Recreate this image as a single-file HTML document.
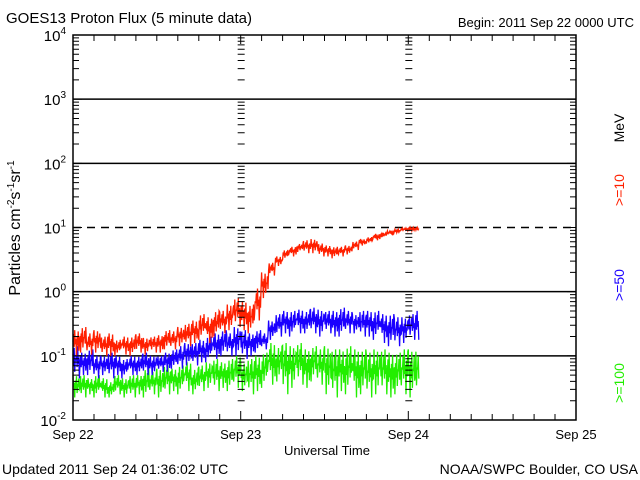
<!DOCTYPE html>
<html><head><meta charset="utf-8"><style>
html,body{margin:0;padding:0;background:#fff;width:640px;height:480px;overflow:hidden}
svg text{font-family:"Liberation Sans",sans-serif;}
</style></head><body>
<svg id="chart" width="640" height="480" viewBox="0 0 640 480">
<rect width="640" height="480" fill="#fff"/>
<text x="6" y="23" font-size="15">GOES13 Proton Flux (5 minute data)</text>
<text x="634" y="27" font-size="13" text-anchor="end">Begin: 2011 Sep 22 0000 UTC</text>
<text transform="translate(20,228) rotate(-90)" font-size="16" text-anchor="middle">Particles cm<tspan dy="-6" font-size="10">-2</tspan><tspan dy="6">s</tspan><tspan dy="-6" font-size="10">-1</tspan><tspan dy="6">sr</tspan><tspan dy="-6" font-size="10">-1</tspan></text>
<text transform="translate(624,128) rotate(-90)" font-size="14" text-anchor="middle">MeV</text>
<text transform="translate(624,190) rotate(-90)" font-size="14" text-anchor="middle" fill="#ff2000">&gt;=10</text>
<text transform="translate(624,285) rotate(-90)" font-size="14" text-anchor="middle" fill="#1a00ff">&gt;=50</text>
<text transform="translate(624,383) rotate(-90)" font-size="14" text-anchor="middle" fill="#22ee00">&gt;=100</text>
<text x="327" y="455" font-size="13" text-anchor="middle">Universal Time</text>
<text x="2" y="474" font-size="14">Updated 2011 Sep 24 01:36:02 UTC</text>
<text x="638" y="474" font-size="14" text-anchor="end">NOAA/SWPC Boulder, CO USA</text>
<g id="axes"></g>
<g id="series"></g>
<g id="frame"></g>
</svg>
<script>
const dayLabels = ["Sep 22","Sep 23","Sep 24","Sep 25"];
const decadeExps = [-2,-1,0,1,2,3,4];
const redHi = [-0.6,-0.55,-0.65,-0.6,-0.7,-0.65,-0.75,-0.7,-0.7,-0.65,-0.72,-0.7,-0.68,-0.6,-0.62,-0.55,-0.5,-0.45,-0.35,-0.4,-0.3,-0.3,-0.2,-0.1,-0.15,-0.2,0.05,0.3,0.45,0.55,0.65,0.7,0.75,0.8,0.82,0.75,0.72,0.7,0.7,0.72,0.78,0.82,0.85,0.9,0.92,0.95,0.97,0.99,1.0,1.0];
const redLo = [-1.0,-0.95,-0.98,-0.95,-1.0,-1.0,-1.0,-0.98,-1.0,-0.95,-0.98,-0.95,-0.95,-0.9,-0.9,-0.85,-0.85,-0.8,-0.75,-0.8,-0.7,-0.65,-0.6,-0.55,-0.6,-0.65,-0.45,-0.1,0.25,0.4,0.5,0.55,0.62,0.6,0.6,0.55,0.55,0.52,0.55,0.58,0.65,0.72,0.75,0.8,0.85,0.88,0.92,0.95,0.95,0.96];
const blueHi = [-0.85,-0.95,-0.9,-1.0,-1.0,-0.95,-1.0,-1.05,-1.0,-1.0,-0.95,-1.0,-1.0,-0.95,-0.9,-0.85,-0.8,-0.8,-0.75,-0.7,-0.65,-0.6,-0.65,-0.55,-0.6,-0.65,-0.6,-0.65,-0.45,-0.35,-0.3,-0.3,-0.28,-0.3,-0.25,-0.28,-0.3,-0.3,-0.25,-0.3,-0.35,-0.3,-0.3,-0.3,-0.35,-0.35,-0.4,-0.4,-0.35,-0.3];
const blueLo = [-1.35,-1.3,-1.3,-1.35,-1.3,-1.35,-1.3,-1.35,-1.3,-1.3,-1.3,-1.3,-1.25,-1.25,-1.2,-1.2,-1.15,-1.15,-1.1,-1.1,-1.05,-1.0,-1.0,-1.0,-1.05,-1.0,-0.95,-0.9,-0.75,-0.7,-0.65,-0.7,-0.65,-0.65,-0.65,-0.7,-0.65,-0.7,-0.7,-0.65,-0.65,-0.7,-0.7,-0.75,-0.8,-0.85,-0.85,-0.8,-0.75,-0.75];
const greenHi = [-1.3,-1.3,-1.35,-1.3,-1.35,-1.4,-1.3,-1.35,-1.3,-1.3,-1.2,-1.25,-1.2,-1.15,-1.2,-1.15,-1.1,-1.2,-1.15,-1.1,-1.05,-1.1,-1.05,-1.0,-1.1,-1.05,-1.0,-0.95,-0.8,-0.85,-0.8,-0.85,-0.8,-0.9,-0.85,-0.9,-0.85,-0.9,-0.9,-0.85,-0.9,-0.9,-0.95,-0.9,-0.9,-0.95,-0.95,-0.9,-0.9,-0.9];
const greenLo = [-1.65,-1.65,-1.6,-1.65,-1.65,-1.65,-1.6,-1.65,-1.65,-1.6,-1.65,-1.6,-1.65,-1.6,-1.55,-1.6,-1.55,-1.6,-1.55,-1.5,-1.55,-1.5,-1.55,-1.5,-1.55,-1.6,-1.55,-1.5,-1.45,-1.4,-1.6,-1.5,-1.45,-1.5,-1.4,-1.45,-1.6,-1.65,-1.55,-1.6,-1.65,-1.6,-1.65,-1.6,-1.6,-1.65,-1.6,-1.6,-1.65,-1.6];
const dataEndHour = 49.5;

const NS="http://www.w3.org/2000/svg";
const L=73,R=576,T=35,B=420;
const xOf=h=>L+(R-L)*h/72;
const yOf=lg=>B-(B-T)*(lg+2)/6;
function mk(tag,parent,attrs){const e=document.createElementNS(NS,tag);for(const k in attrs)e.setAttribute(k,attrs[k]);parent.appendChild(e);return e;}
const axes=document.getElementById('axes'), frame=document.getElementById('frame'), ser=document.getElementById('series');

decadeExps.forEach(e=>{
  if(e===-2||e===4)return;
  const y=yOf(e);
  const ln=mk('line',axes,{x1:L,x2:R,y1:y,y2:y,stroke:'#000','stroke-width':1.5});
  
  
  if(e===1)ln.setAttribute('stroke-dasharray','8,6');
});
let tk='';
for(let e=-2;e<4;e++){
  for(let m=2;m<=9;m++){
    const y=yOf(e+Math.log10(m)).toFixed(1);
    tk+=`M${L},${y}h6M${R},${y}h-6`;
    [1,2].forEach(d=>{const x=xOf(d*24);tk+=`M${x-3},${y}h7`;});
  }
}
decadeExps.forEach(e=>{const y=yOf(e);tk+=`M${L},${y}h9M${R},${y}h-9`;});
for(let h=3;h<72;h+=3){const x=xOf(h).toFixed(1);const len=h%24===0?9:6;tk+=`M${x},${B}v-${len}M${x},${T}v${len}`;}
const tp=mk('path',frame,{d:tk,stroke:'#000','stroke-width':1,fill:'none'});


const fr=mk('rect',frame,{x:L,y:T,width:R-L,height:B-T,fill:'none',stroke:'#000','stroke-width':1.5});



decadeExps.forEach(e=>{
  const t=mk('text',axes,{x:66,y:yOf(e)+6,'font-size':15,'text-anchor':'end'});
  
  
  t.innerHTML='10<tspan dy="-7" font-size="10">'+e+'</tspan>';
});
dayLabels.forEach((d,i)=>{
  const t=mk('text',axes,{x:xOf(i*24),y:439,'font-size':13,'text-anchor':'middle'});
  
  
  t.textContent=d;
});

// jitter pattern positions samples within the hourly [lo,hi] envelope
const jitter=[0.55,0.85,0.35,1.0,0.45,0.65,0.0,0.75,0.4,0.95,0.2,0.6];
function drawSeries(hi,lo,color,name,offset){
  let pts=[];
  for(let i=0;i<hi.length;i++){
    for(let k=0;k<12;k++){
      const h=i+k/12; if(h>dataEndHour)break;
      const f=jitter[(k+i*5+offset)%12];
      const v=lo[i]+(hi[i]-lo[i])*f;
      pts.push(xOf(h).toFixed(1)+','+yOf(v).toFixed(1));
    }
  }
  const p=mk('polyline',ser,{points:pts.join(' '),fill:'none',stroke:color,'stroke-width':1.3});
  
  
}
drawSeries(greenHi,greenLo,'#22ee00','series-ge100',3);
drawSeries(blueHi,blueLo,'#1a00ff','series-ge50',7);
drawSeries(redHi,redLo,'#ff2000','series-ge10',0);
</script>
</body></html>
